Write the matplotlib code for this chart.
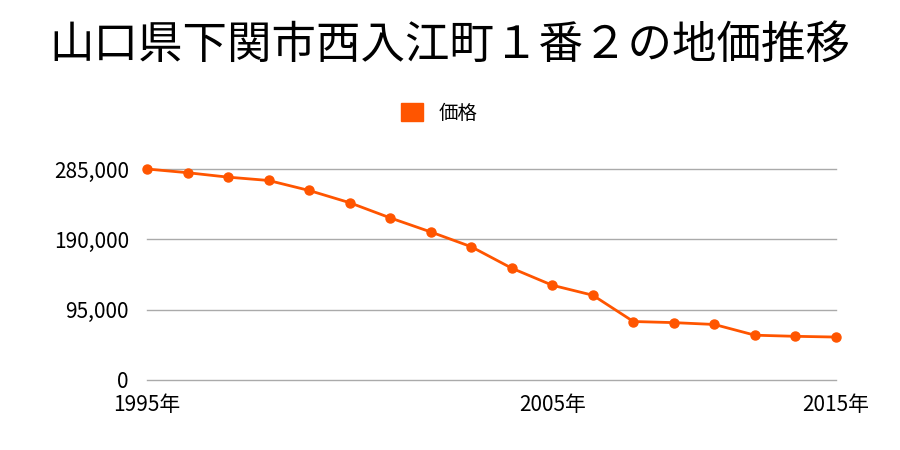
import matplotlib
matplotlib.use("Agg")
import matplotlib.pyplot as plt
from matplotlib.ticker import FuncFormatter

plt.rcParams['font.family'] = ['Noto Sans CJK JP', 'DejaVu Sans']

# data (category axis, 18 points)
labels = ["1995年", "", "", "", "", "", "", "", "", "", "2005年",
          "", "", "", "", "", "", "2015年"]
prices = [285000, 280000, 274000, 269500, 256000, 239500, 219000, 200000,
          180000, 151000, 128000, 114500, 79000, 77500, 75000, 60500,
          59000, 58000]
yticks = [0, 95000, 190000, 285000]

color = '#ff5500'

fig = plt.figure(figsize=(9, 4.5), dpi=100)
ax = fig.add_axes([147/900, 1-380/450, (836-147)/900, (380-169)/450])

x = list(range(len(prices)))
ax.plot(x, prices, color=color, lw=2, marker='o', ms=6.5, clip_on=False,
        zorder=3, label='価格')

ax.set_xlim(0, len(prices)-1)
ax.set_ylim(0, 285000)
ax.set_yticks(yticks)
ax.yaxis.set_major_formatter(FuncFormatter(lambda v, p: f"{int(v):,}"))
ax.set_xticks(x)
ax.set_xticklabels(labels)
ax.tick_params(axis='both', length=0, labelsize=15)
ax.tick_params(axis='y', pad=13)
ax.tick_params(axis='x', pad=10)
ax.grid(axis='y', color='#aaaaaa', lw=1)
for gl in ax.get_ygridlines():
    gl.set_clip_on(False)
ax.set_axisbelow(True)
for s in ax.spines.values():
    s.set_visible(False)

fig.text(0.5, 0.9, '山口県下関市西入江町１番２の地価推移', ha='center', va='center',
         fontsize=32)
fig.legend(loc='center', bbox_to_anchor=(0.488, 1-113/450), frameon=False,
           handles=[plt.Rectangle((0, 0), 1, 1, color=color)], labels=['価格'],
           fontsize=14, handlelength=1.1, handleheight=1.1, handletextpad=0.8)

fig.savefig('out.png', dpi=100)
